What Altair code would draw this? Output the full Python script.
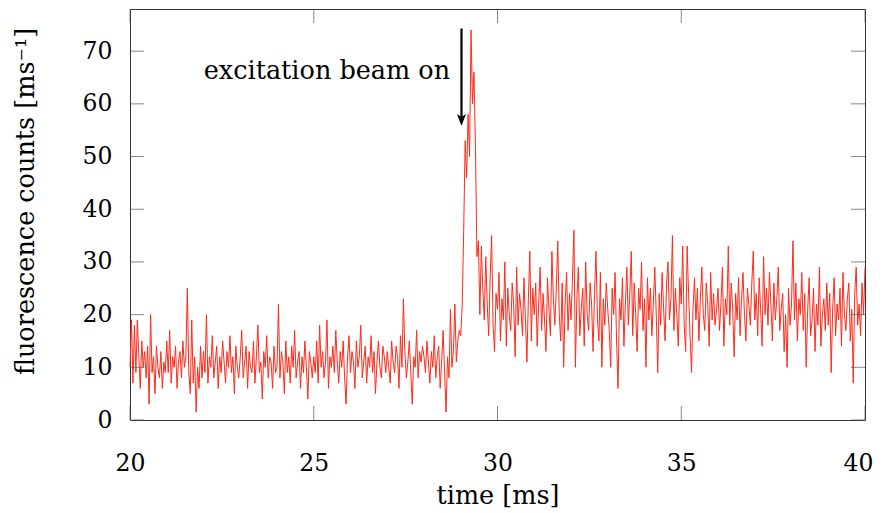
import altair as alt
import pandas as pd

# --- data (fluorescence counts per ms, 0.04 ms bins) ---
T_START = 20.0
T_STEP = 0.04

baseline = [
    10, 19, 7, 18, 9, 19, 12, 6, 15, 10, 13, 8, 14, 3, 20, 9, 12, 5, 14, 10, 8, 13, 6, 11, 9,
    15, 9, 17, 7, 12, 10, 14, 6, 11, 13, 8, 15, 10, 12, 25, 9, 5, 19, 7, 12, 1.5, 10, 6, 14, 8,
    13, 9, 20, 7, 12, 10, 16, 8, 11, 14, 6, 12, 9, 15, 11, 7, 13, 10, 16, 9, 12, 5, 14, 10, 8,
    12, 17, 8, 11, 14, 6, 13, 10, 9, 15, 7, 12, 18, 9, 11, 4, 13, 10, 16, 8, 12, 11, 6, 14, 9,
    10, 22, 8, 13, 11, 5, 15, 9, 12, 7, 14, 10, 17, 8, 11, 13, 6, 12, 9, 15, 10, 4, 13, 11, 8,
    12, 9, 15, 7, 18, 10, 13, 8, 11, 19, 6, 12, 10, 14, 9, 17, 11, 7, 13, 10, 15, 8, 3, 12, 16,
    9, 13, 11, 6, 15, 10, 12, 18, 8, 11, 14, 7, 12, 10, 16, 9, 13, 5, 11, 15, 10, 8, 14, 12, 9,
    13, 10, 7, 15, 11, 9, 14, 12, 6, 16, 10, 23, 13, 8, 11, 15, 9, 3, 12, 10, 17, 8, 13, 11, 14,
    12, 9, 15, 11, 7, 13, 10, 16, 8, 12, 14, 6, 11, 17, 9, 1.5, 12, 8, 21, 10, 13, 22, 11, 15, 17,
]

burst = [16, 22, 36, 53, 46, 58, 50, 74, 60, 66, 52, 31, 34]

elevated = [
    20, 33, 25, 19, 31, 22, 16, 27, 35, 18, 13, 24,
    21, 28, 15, 23, 19, 30, 14, 25, 20, 17, 26, 22, 12, 29, 18, 24, 21, 16, 27, 19, 11, 23, 32, 15, 25,
    20, 26, 14, 22, 29, 17, 24, 19, 13, 27, 21, 16, 32, 23, 18, 25, 34, 20, 15, 26, 10, 22, 28, 17, 24,
    19, 27, 36, 10, 23, 29, 16, 21, 25, 14, 30, 20, 17, 26, 22, 13, 24, 32, 19, 15, 28, 10, 23, 18, 26,
    21, 17, 10, 25, 20, 28, 15, 6, 23, 19, 27, 14, 22, 29, 18, 24, 32, 16, 26, 20, 13, 25, 21, 30, 17,
    23, 10, 27, 19, 25, 16, 22, 29, 20, 9, 24, 18, 28, 21, 15, 26, 30, 19, 23, 35, 17, 25, 20, 14, 27,
    22, 33, 18, 13, 33, 24, 16, 9, 21, 27, 19, 25, 15, 23, 29, 20, 17, 26, 22, 14, 28, 19, 24, 18, 21,
    25, 17, 22, 29, 14, 23, 20, 33, 18, 26, 21, 12, 24, 19, 27, 16, 23, 28, 20, 15, 25, 22, 18, 26, 32,
    19, 24, 16, 27, 21, 14, 31, 20, 25, 18, 28, 22, 15, 26, 19, 23, 29, 17, 21, 24, 13, 20, 10, 25, 18,
    22, 34, 19, 26, 15, 23, 20, 28, 17, 24, 10, 21, 27, 16, 19, 25, 13, 22, 18, 29, 14, 20, 23, 17, 26,
    18, 24, 9, 21, 27, 16, 22, 19, 25, 14, 28, 20, 17, 23, 26, 15, 21, 7, 24, 29, 18, 22, 16, 26, 20, 29,
]

x_ticks = [20, 25, 30, 35, 40]
y_ticks = [0, 10, 20, 30, 40, 50, 60, 70]

annotation_text = "excitation beam on"
annotation_x = 28.71
annotation_y = 64.7
arrow_x = 29.02
arrow_top = 74.3
arrow_tip = 55.8

X_DOMAIN = [20, 40]
Y_DOMAIN = [0, 78]
FONT = "DejaVu Serif"
W, H = 735, 411

counts = baseline + burst + elevated
trace = pd.DataFrame({
    "t": [T_START + T_STEP * i for i in range(len(counts))],
    "v": counts,
})

xs = alt.Scale(domain=X_DOMAIN, nice=False, zero=False)
ys = alt.Scale(domain=Y_DOMAIN, nice=False, zero=False)

line = alt.Chart(trace).mark_line(color="#ff2a1a", strokeWidth=1).encode(
    x=alt.X("t:Q", scale=xs,
            axis=alt.Axis(values=x_ticks, title="time [ms]", titleY=83,
                          titleBaseline="alphabetic", labelPadding=31,
                          labelFlush=False,
                          labelOffset={"condition": {"test": "datum.value == 40", "value": -7},
                                       "value": 0})),
    y=alt.Y("v:Q", scale=ys,
            axis=alt.Axis(values=y_ticks, title="fluorescence counts [ms⁻¹]",
                          titleX=-105, titleY=192, titleBaseline="middle",
                          titleAlign="center", labelPadding=18,
                          labelFlush=False)),
)

xt = pd.DataFrame({"tick": x_ticks})
yt = pd.DataFrame({"tick": y_ticks})
TICK = dict(color="#555555", thickness=1, size=14)

xb = alt.Chart(xt).mark_tick(orient="vertical", **TICK).encode(
    x=alt.X("tick:Q", scale=xs), y=alt.value(H - 7))
xtop = alt.Chart(xt).mark_tick(orient="vertical", **TICK).encode(
    x=alt.X("tick:Q", scale=xs), y=alt.value(7))
yl = alt.Chart(yt).mark_tick(orient="horizontal", **TICK).encode(
    y=alt.Y("tick:Q", scale=ys), x=alt.value(7))
yr = alt.Chart(yt).mark_tick(orient="horizontal", **TICK).encode(
    y=alt.Y("tick:Q", scale=ys), x=alt.value(W - 7))

arrow_df = pd.DataFrame({"x": [arrow_x], "y1": [arrow_top], "y2": [arrow_tip + 1.5], "tip": [arrow_tip]})
arrow_line = alt.Chart(arrow_df).mark_rule(color="black", strokeWidth=2.2).encode(
    x=alt.X("x:Q", scale=xs), y=alt.Y("y1:Q", scale=ys), y2="y2:Q")
arrow_head = alt.Chart(arrow_df).mark_point(
    shape="M0,0L-0.75,-2L0,-1.5L0.75,-2Z", size=144, filled=True,
    color="black", opacity=1, strokeWidth=0).encode(
    x=alt.X("x:Q", scale=xs), y=alt.Y("tip:Q", scale=ys))

text_df = pd.DataFrame({"x": [annotation_x], "y": [annotation_y], "label": [annotation_text]})
label = alt.Chart(text_df).mark_text(
    align="right", baseline="alphabetic", font=FONT, fontSize=25.5, color="black").encode(
    x=alt.X("x:Q", scale=xs), y=alt.Y("y:Q", scale=ys), text="label:N")

chart = alt.layer(line, xb, xtop, yl, yr, arrow_line, arrow_head, label).properties(
    width=W, height=H,
    autosize=alt.AutoSizeParams(type="none"),
    padding={"left": 122, "top": 1, "right": 9, "bottom": 93},
).configure_view(
    stroke="#333333", strokeWidth=1
).configure_axis(
    domain=False, ticks=False, grid=False,
    labelFont=FONT, labelFontSize=23.5, labelColor="black",
    titleFont=FONT, titleFontSize=25.5, titleColor="black", titleFontWeight="normal",
)

chart.save("out.html", embed_options={"renderer": "svg", "actions": False})
